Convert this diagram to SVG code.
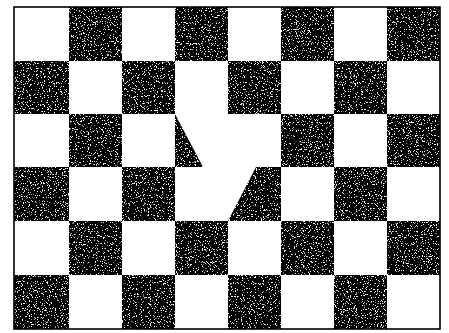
<svg xmlns="http://www.w3.org/2000/svg" width="449" height="333" viewBox="0 0 449 333">
<defs>
<style>
.b{fill:#000}
.edge{fill:none;stroke:#000;stroke-width:1.6}
</style>
<filter id="grain" x="0" y="0" width="100%" height="100%">
<feTurbulence type="fractalNoise" baseFrequency="0.85" numOctaves="2" seed="7" result="n"/>
<feColorMatrix in="n" type="matrix" values="0 0 0 0 1  0 0 0 0 1  0 0 0 0 1  14 0 0 0 -8.6" result="spots"/>
<feComposite in="spots" in2="SourceGraphic" operator="in" result="s2"/>
<feMerge><feMergeNode in="SourceGraphic"/><feMergeNode in="s2"/></feMerge>
</filter>
</defs>
<rect width="449" height="333" fill="#fff"/>
<g id="board" filter="url(#grain)">
<rect class="b" x="69" y="7" width="53" height="54"/>
<rect class="b" x="175" y="7" width="53" height="54"/>
<rect class="b" x="281" y="7" width="53" height="54"/>
<rect class="b" x="387" y="7" width="53" height="54"/>
<rect class="b" x="14" y="61" width="55" height="53"/>
<rect class="b" x="122" y="61" width="53" height="53"/>
<rect class="b" x="228" y="61" width="53" height="53"/>
<rect class="b" x="334" y="61" width="53" height="53"/>
<rect class="b" x="69" y="114" width="53" height="53"/>
<polygon class="b" points="175,114 203,167 175,167"/>
<rect class="b" x="281" y="114" width="53" height="53"/>
<rect class="b" x="387" y="114" width="53" height="53"/>
<rect class="b" x="14" y="167" width="55" height="54"/>
<rect class="b" x="122" y="167" width="53" height="54"/>
<polygon class="b" points="256,167 281,167 281,221 228,221"/>
<rect class="b" x="334" y="167" width="53" height="54"/>
<rect class="b" x="69" y="221" width="53" height="54"/>
<rect class="b" x="175" y="221" width="53" height="54"/>
<rect class="b" x="281" y="221" width="53" height="54"/>
<rect class="b" x="387" y="221" width="53" height="54"/>
<rect class="b" x="14" y="275" width="55" height="54"/>
<rect class="b" x="122" y="275" width="53" height="54"/>
<rect class="b" x="228" y="275" width="53" height="54"/>
<rect class="b" x="334" y="275" width="53" height="54"/>
</g>
<rect id="border" class="edge" x="14" y="7" width="426" height="322"/>
</svg>
